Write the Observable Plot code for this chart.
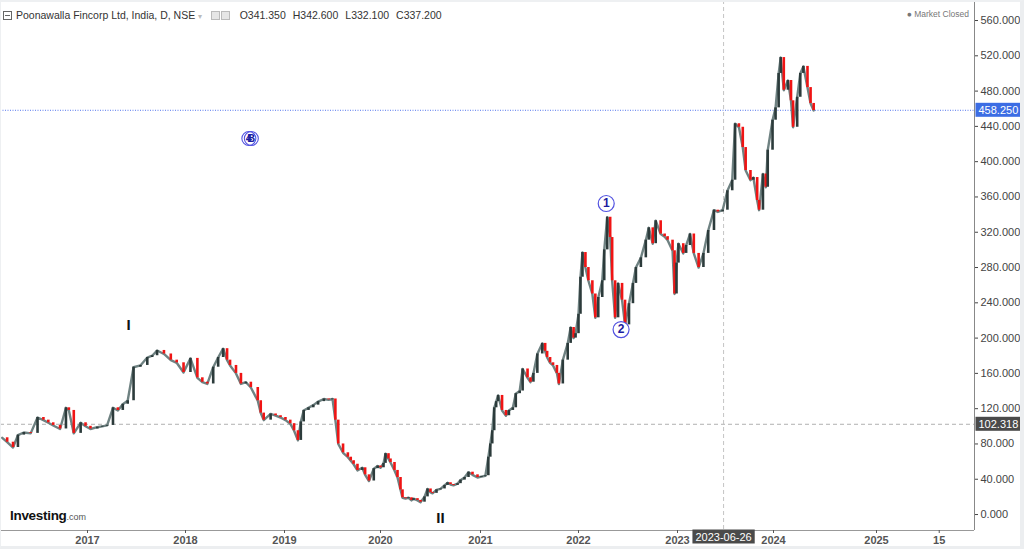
<!DOCTYPE html>
<html><head><meta charset="utf-8">
<script src="https://cdn.jsdelivr.net/npm/d3@7"></script>
<script src="https://cdn.jsdelivr.net/npm/@observablehq/plot@0.6"></script>
<style>
html,body{margin:0;padding:0;background:#fff;}
#wrap{position:relative;width:1024px;height:549px;overflow:hidden;font-family:"Liberation Sans",Arial,sans-serif;}
#chart svg{display:block;}
.ov{position:absolute;white-space:nowrap;}
#hdr{left:3px;top:9px;font-size:10.5px;color:#333;}
#hdr .ic{display:inline-block;width:7px;height:7px;border:1px solid #bbb;background:#e6e6e6;margin-right:1px;vertical-align:-1px;}
#hdr .box{display:inline-block;width:7px;height:7px;border:1px solid #666;vertical-align:-1px;margin-right:4px;position:relative;}
#hdr .box:after{content:"";position:absolute;left:1px;right:1px;top:3px;height:1px;background:#666;}
#hdr .v{margin-left:7px;}
#mc{right:55px;top:9px;font-size:8.5px;color:#777;}
#logo{left:10px;top:508px;font-size:13.5px;font-weight:bold;color:#111;letter-spacing:-0.3px;}
#logo span{font-size:9px;font-weight:normal;color:#555;letter-spacing:0;}
#frame{position:absolute;left:0;top:0;width:1024px;height:549px;box-sizing:border-box;border-top:2px solid #eef0f2;border-left:1px solid #eef0f2;border-right:4px solid #eceef0;border-bottom:3px solid #eceef0;pointer-events:none;}
</style></head>
<body><div id="wrap"><div id="chart"></div>
<div id="hdr" class="ov"><span class="box"></span>Poonawalla Fincorp Ltd, India, D, NSE <span style="color:#bbb;font-size:8px">&#9662;</span>&nbsp;&nbsp;&nbsp;<span class="ic"></span><span class="ic"></span>&nbsp;&nbsp;&nbsp;O341.350<span class="v">H342.600</span><span class="v">L332.100</span><span class="v">C337.200</span></div>
<div id="mc" class="ov">&#9679; Market Closed</div>
<div id="logo" class="ov">Investing<span>.com</span></div>
<div id="frame"></div>
</div>
<script>
// Time as decimal years, close prices
const years = [2016.13,2016.18,2016.24,2016.29,2016.35,2016.42,2016.49,2016.55,2016.60,2016.65,2016.72,2016.78,2016.81,2016.86,2016.93,2016.98,
2017.03,2017.10,2017.15,2017.20,2017.26,2017.31,2017.36,2017.41,2017.47,2017.54,2017.61,2017.66,2017.71,2017.78,2017.85,2017.91,2017.98,
2018.05,2018.12,2018.17,2018.22,2018.28,2018.33,2018.38,2018.42,2018.45,2018.51,2018.56,2018.61,2018.66,2018.73,2018.76,2018.79,2018.86,2018.91,2018.96,
2019.01,2019.06,2019.10,2019.14,2019.17,2019.20,2019.25,2019.30,2019.35,2019.41,2019.46,2019.50,2019.53,2019.56,2019.61,2019.66,2019.69,2019.72,2019.76,2019.81,2019.84,2019.88,2019.93,2019.97,
2020.00,2020.03,2020.05,2020.08,2020.10,2020.14,2020.17,2020.20,2020.22,2020.25,2020.28,2020.31,2020.33,2020.37,2020.40,2020.44,2020.47,2020.50,2020.52,2020.56,2020.60,2020.64,2020.67,2020.70,2020.73,2020.77,2020.80,2020.84,2020.88,2020.92,2020.97,
2021.01,2021.05,2021.08,2021.10,2021.12,2021.14,2021.16,2021.18,2021.22,2021.26,2021.29,2021.33,2021.36,2021.40,2021.43,2021.48,2021.51,2021.54,2021.58,2021.63,2021.66,2021.68,2021.71,2021.74,2021.78,2021.80,2021.84,2021.89,2021.92,2021.95,2021.97,
2022.00,2022.02,2022.04,2022.07,2022.10,2022.14,2022.17,2022.20,2022.24,2022.26,2022.29,2022.32,2022.34,2022.37,2022.40,2022.44,2022.47,2022.51,2022.55,2022.58,2022.63,2022.68,2022.71,2022.75,2022.78,2022.83,2022.87,2022.90,2022.95,2022.97,2022.99,
2023.01,2023.06,2023.09,2023.13,2023.17,2023.22,2023.27,2023.32,2023.38,2023.42,2023.47,2023.52,2023.57,2023.60,2023.64,2023.68,2023.71,2023.76,2023.79,2023.83,2023.85,2023.89,2023.92,2023.94,2023.99,
2024.02,2024.05,2024.07,2024.10,2024.14,2024.17,2024.19,2024.23,2024.26,2024.29,2024.33,2024.36,2024.39];
const closes = [87,82,76,90,93,92,110,107,104,101,97,121,118,92,104,100,
97,99,100,101,121,118,125,129,167,169,178,180,186,182,175,172,161,
177,155,150,148,167,178,188,175,169,160,148,150,144,129,115,107,114,112,110,
107,103,95,84,105,118,121,124,128,131,130,131,107,80,70,65,61,57,50,53,45,38,52,55,
53,58,69,63,59,50,42,28,19,18,19,16,18,16,14,20,29,25,24,28,29,33,36,34,33,35,39,42,48,45,42,
43,44,65,80,95,121,128,135,118,112,118,121,137,140,165,155,150,160,182,194,185,178,172,169,160,148,175,194,212,200,205,
227,269,297,280,265,250,223,246,265,300,337,314,265,223,262,243,215,239,262,280,291,311,325,307,333,318,315,311,299,250,285,
307,296,305,318,296,280,296,322,345,343,345,367,379,443,439,416,390,379,382,356,345,386,371,413,447,
461,500,518,481,492,469,439,473,500,508,484,466,458];

const yTicks = [0,40,80,120,160,200,240,280,320,360,400,440,480,520,560];
const xTicks = [2017,2018,2019,2020,2021,2022,2023,2024,2025,2025.64];
const xTickLabels = ["2017","2018","2019","2020","2021","2022","2023","2024","2025","15"];
const lastPrice = 458.25;
const refPrice = 102.318;
const crossDate = 2023.48;
const crossDateLabel = "2023-06-26";
const waveText = ["1","2"];
const waveX = [2022.28, 2022.43];
const waveY = [352.6, 209.7];
const dupText = ["4","B"];
const dupX = [2018.64, 2018.665];
const dupY = [426.3, 426.3];
const romanText = ["I","II"];
const romanX = [2017.42, 2020.60];
const romanY = [214.3, -4.5];

const rows = years.map((t,i)=>({t, o: closes[Math.max(0,i-1)], c: closes[i]}));
const waves = waveText.map((s,i)=>({s, x: waveX[i], y: waveY[i]}));
const dups = dupText.map((s,i)=>({s, x: dupX[i], y: dupY[i]}));
const romans = romanText.map((s,i)=>({s, x: romanX[i], y: romanY[i]}));

const plot = Plot.plot({
  width: 1024, height: 549,
  marginTop: 0, marginLeft: 0, marginRight: 50, marginBottom: 19,
  style: {fontFamily: '"Liberation Sans", Arial, sans-serif', background: "white", overflow: "visible"},
  x: {type: "linear", domain: [2016.112,2017,2018,2019,2020,2021,2022,2023,2024,2025,2026],
      range: [0,87,185,284,380,480,578,677,773,876,974]},
  y: {domain: [-18.1, 582.7]},
  marks: [
    Plot.ruleY([refPrice], {stroke: "#b0b0b0", strokeDasharray: "4,3"}),
    Plot.ruleY([lastPrice], {stroke: "#5577ee", strokeDasharray: "1,1.5"}),
    Plot.ruleX([crossDate], {stroke: "#c4c4c4", strokeDasharray: "4,3"}),
    Plot.line(rows, {x: "t", y: "c", stroke: "#6f8282", strokeWidth: 2.4}),
    Plot.ruleX(rows, {x: "t", y1: "o", y2: "c", stroke: d => d.c < d.o ? "#f01414" : "#2c3b3b", strokeWidth: 2.6}),
    Plot.dot(waves, {x: "x", y: "y", r: 8, stroke: "#5252e0", fill: "white", strokeWidth: 1.2}),
    Plot.text(waves, {x: "x", y: "y", text: "s", fill: "#1c1ca0", fontSize: 12, fontWeight: "bold"}),
    Plot.dot(dups, {x: "x", y: "y", r: 7, stroke: "#5252e0", fill: "none", strokeWidth: 1.1}),
    Plot.text(dups, {x: "x", y: "y", text: "s", fill: "#1c1ca0", fontSize: 11, fontWeight: "bold"}),
    Plot.text(romans, {x: "x", y: "y", text: "s", fill: "#111", fontSize: 15, fontWeight: "bold"}),
    Plot.ruleX([2026], {stroke: "#888"}),
    Plot.ruleY([-18.1], {x1: 2016.112, x2: 2026, stroke: "#999"}),
    Plot.axisY({anchor: "right", ticks: yTicks, tickFormat: d => d.toFixed(3), tickSize: 3, tickPadding: 3, fontSize: 11, color: "#444", label: null}),
    Plot.axisX({anchor: "bottom", ticks: xTicks, tickFormat: (d,i) => xTickLabels[xTicks.indexOf(d)], tickSize: 3, tickPadding: 3, fontSize: 11, fontWeight: "bold", color: "#555", label: null}),
    Plot.text([lastPrice], {y: d => d, text: d => d.toFixed(3), frameAnchor: "right", dx: 4, textAnchor: "start", fill: "white", fontSize: 11}),
    Plot.text([refPrice], {y: d => d, text: d => d.toFixed(3), frameAnchor: "right", dx: 4, textAnchor: "start", fill: "white", fontSize: 11}),
    Plot.text([crossDate], {x: d => d, text: () => crossDateLabel, frameAnchor: "bottom", dy: 10, fill: "white", fontSize: 11})
  ]
});
document.getElementById("chart").appendChild(plot);

const fills = {"458.250": "#3c6de4", "102.318": "#4a4a4a", "2023-06-26": "#4a4a4a"};
d3.select(plot).selectAll("text").each(function() {
  const fill = fills[this.textContent];
  if (!fill) return;
  const b = this.getBBox();
  const r = document.createElementNS("http://www.w3.org/2000/svg", "rect");
  r.setAttribute("x", b.x - 3); r.setAttribute("y", b.y - 1);
  r.setAttribute("width", b.width + 6); r.setAttribute("height", b.height + 2);
  r.setAttribute("fill", fill);
  const tr = this.getAttribute("transform");
  if (tr) r.setAttribute("transform", tr);
  this.parentNode.insertBefore(r, this);
});
</script>
</body></html>
